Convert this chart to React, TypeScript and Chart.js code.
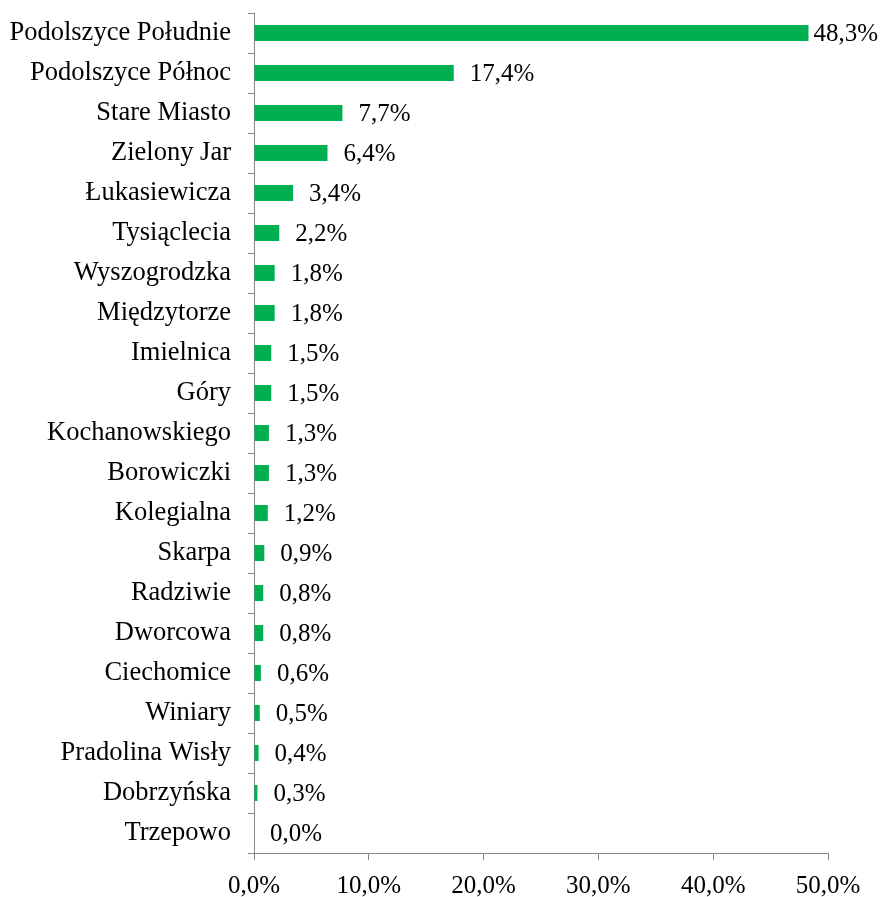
import React, { useEffect, useRef } from "react";
import { Chart, registerables } from "chart.js";

Chart.register(...registerables);

const categories: string[] = [
  "Podolszyce Południe",
  "Podolszyce Północ",
  "Stare Miasto",
  "Zielony Jar",
  "Łukasiewicza",
  "Tysiąclecia",
  "Wyszogrodzka",
  "Międzytorze",
  "Imielnica",
  "Góry",
  "Kochanowskiego",
  "Borowiczki",
  "Kolegialna",
  "Skarpa",
  "Radziwie",
  "Dworcowa",
  "Ciechomice",
  "Winiary",
  "Pradolina Wisły",
  "Dobrzyńska",
  "Trzepowo",
];

const values: number[] = [
  48.3, 17.4, 7.7, 6.4, 3.4, 2.2, 1.8, 1.8, 1.5, 1.5, 1.3, 1.3, 1.2, 0.9, 0.8,
  0.8, 0.6, 0.5, 0.4, 0.3, 0.0,
];

const xTicks: number[] = [0, 10, 20, 30, 40, 50];

const FONT = "'Liberation Serif', 'Times New Roman', serif";
const GREEN = "#00B050";
const GRAY = "#868686";

const fmt = (v: number) => v.toFixed(1).replace(".", ",") + "%";

const labelPlugin = {
  id: "barValueLabels",
  afterDatasetsDraw(chart: any) {
    const ctx = chart.ctx;
    const meta = chart.getDatasetMeta(0);
    ctx.save();
    ctx.font = `25px ${FONT}`;
    ctx.fillStyle = "#000";
    ctx.textBaseline = "middle";
    ctx.textAlign = "left";
    meta.data.forEach((el: any, i: number) => {
      const text = fmt(values[i]);
      const w = ctx.measureText(text).width;
      let x = el.x + 16;
      x = Math.min(x, chart.width - w - 5);
      ctx.fillText(text, x, el.y + 1);
    });
    ctx.restore();
  },
};

export default function App() {
  const ref = useRef<HTMLCanvasElement | null>(null);

  useEffect(() => {
    if (!ref.current) return;
    const chart = new Chart(ref.current, {
      type: "bar",
      data: {
        labels: categories,
        datasets: [
          {
            data: values,
            backgroundColor: GREEN,
            borderWidth: 0,
            barPercentage: 0.4,
            categoryPercentage: 1,
          },
        ],
      },
      options: {
        indexAxis: "y",
        animation: false,
        responsive: true,
        maintainAspectRatio: false,
        layout: { padding: { top: 13, right: 55, bottom: 0, left: 0 } },
        plugins: {
          legend: { display: false },
          tooltip: { enabled: false },
        },
        scales: {
          y: {
            type: "category",
            grid: {
              display: true,
              drawOnChartArea: false,
              drawTicks: true,
              tickLength: 6,
              color: GRAY,
              offset: true,
            },
            border: { display: true, color: GRAY, width: 1 },
            ticks: {
              color: "#000",
              font: { family: FONT, size: 26.5 },
              padding: 17,
              autoSkip: false,
            },
            afterFit: (s: any) => {
              s.width = 254;
              s.paddingTop = 0;
              s.paddingBottom = 0;
            },
          },
          x: {
            type: "linear",
            min: 0,
            max: 50,
            afterBuildTicks: (s: any) => {
              s.ticks = xTicks.map((v) => ({ value: v }));
            },
            grid: {
              display: true,
              drawOnChartArea: false,
              drawTicks: true,
              tickLength: 7,
              color: GRAY,
            },
            border: { display: true, color: GRAY, width: 1 },
            ticks: {
              color: "#000",
              font: { family: FONT, size: 25 },
              padding: 11,
              maxRotation: 0,
              callback: (v: any) => fmt(Number(v)),
            },
            afterFit: (s: any) => {
              s.height = 44;
            },
          },
        },
      },
      plugins: [labelPlugin],
    });
    return () => chart.destroy();
  }, []);

  return (
    <div
      style={{
        position: "fixed",
        left: 0,
        top: 0,
        width: 883,
        height: 897,
        background: "#fff",
      }}
    >
      <canvas ref={ref} />
    </div>
  );
}
